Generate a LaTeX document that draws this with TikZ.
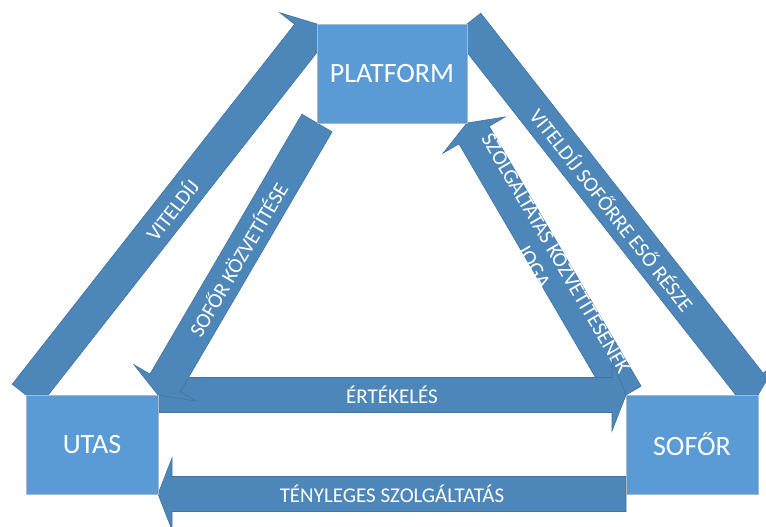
\documentclass[tikz,border=0pt]{standalone}
\usepackage{fontspec}
\setmainfont{Carlito}
\usetikzlibrary{calc,backgrounds}

\definecolor{boxblue}{RGB}{91,155,213}
\definecolor{boxedge}{RGB}{170,184,200}
\definecolor{arrowblue}{RGB}{77,135,186}
\definecolor{arrowedge}{RGB}{66,115,160}

% block arrow from #1 to #2 with text #3 along it
\newcommand{\blockarrow}[3]{%
  \filldraw[arrowbody] let \p1 = ($(#2)!14pt!(#1)$) in
    ($(#1)!17.5pt!90:(#2)$) -- ($(\p1)!17.5pt!90:(#2)$) -- ($(\p1)!36pt!90:(#2)$)
    -- (#2) -- ($(\p1)!36pt!-90:(#2)$) -- ($(\p1)!17.5pt!-90:(#2)$)
    -- ($(#1)!17.5pt!-90:(#2)$) -- cycle;
  \path (#1) -- node[arrowtext, sloped] {#3} (#2);
}

\begin{document}
\begin{tikzpicture}[x=1pt, y=-1pt,
  box/.style = {draw=boxedge, fill=boxblue, text=white, minimum height=99pt, outer sep=0pt, font=\fontsize{28}{33}\selectfont},
  arrowbody/.style = {fill=arrowblue, draw=arrowedge, line width=0.6pt, line join=miter},
  arrowtext/.style = {text=white, align=center, font=\fontsize{21}{25.5}\selectfont}]
\useasboundingbox (0,0) rectangle (766,527);
\node[box, minimum width=150pt] (platform) at (392,73.5) {PLATFORM};
\node[box, minimum width=132pt] (utas) at (92,444.5) {UTAS};
\node[box, minimum width=132pt] (sofor) at (692,444.5) {SOFŐR};
\begin{scope}[on background layer]
\fill[white] (0,0) rectangle (766,527);
\blockarrow{utas.north west}{platform.north west}{VITELDÍJ}
\blockarrow{platform.north east}{sofor.north east}{VITELDÍJ SOFŐRRE ESŐ RÉSZE}
\blockarrow{sofor.north west}{platform.south east}{SZOLGÁLTATÁS KÖZVETÍTÉSÉNEK\\JOGA}
\blockarrow{utas.north east}{sofor.north west}{ÉRTÉKELÉS}
\blockarrow{platform.south west}{utas.north east}{SOFŐR KÖZVETÍTÉSE}
\blockarrow{sofor.south west}{utas.south east}{TÉNYLEGES SZOLGÁLTATÁS}
\end{scope}
\end{tikzpicture}
\end{document}
